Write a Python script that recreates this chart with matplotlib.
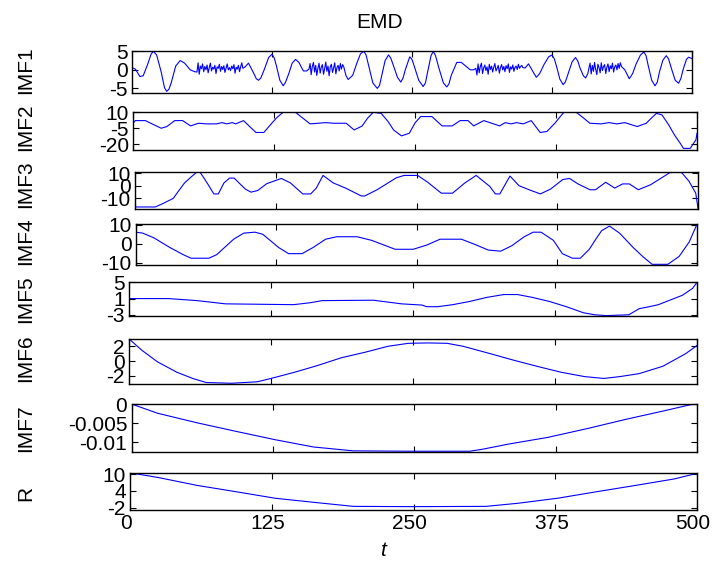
import matplotlib

matplotlib.use("Agg")
import matplotlib.pyplot as plt
import matplotlib.transforms as mtrans
import numpy as np

plt.rcParams["font.family"] = ["Liberation Sans", "DejaVu Sans"]

# ---- data (sample index t, value) ----
# IMF1: smooth oscillating parts + four high-frequency bursts
imf1_a_t = [0, 3, 7, 10, 14, 17, 19, 22, 26, 29, 31, 33, 35, 39, 43, 47, 52, 56]
imf1_a_v = [0.6, 0.2, -1.8, -1.6, 1.5, 4.2, 5.0, 4.0, -0.5, -4.8, -5.8, -5.2, -3.5, 1.0, 2.5, 1.8, 0.0, -0.5]
imf1_b1 = [-0.6, 1.9, -1.2, 1.0, 0.3, 1.6, -0.5, 0.9, 0.0, 1.3, -0.8, 0.6, 1.8, -0.3,
           0.7, 0.2, 1.2, -1.0, 0.8, 0.4, 1.5, -0.4, 0.9, 0.1, 1.1, -0.7, 0.5, 1.6,
           0.0, 0.6, -0.2, 1.0, 0.3, 1.4, -0.9, 0.7, 0.2, 1.2, -0.5, 0.8, 1.9, 0.4]
imf1_c_t = [101, 104, 108, 111, 113, 115, 118, 122, 125, 127, 129, 132, 135, 137, 140, 143, 146, 149, 153, 156]
imf1_c_v = [0.8, 1.8, -0.5, -2.4, -2.8, -2.2, 0.0, 3.3, 4.2, 3.2, 1.0, -2.8, -4.3, -3.4, -1.0, 1.8, 2.8, 2.0, -0.3, -0.3]
imf1_b2 = [0.2, 1.7, -1.3, 0.9, 2.0, -0.6, 1.2, -1.5, 0.4, 1.8, -0.9, 0.7, 1.4, -1.2, 0.3, 2.1,
           -0.4, 1.0, -1.6, 0.8, 1.5, -0.7, 0.5, 1.9, -1.1, 0.6, 1.2, -0.3, 1.7, 0.2, 1.4, 0.9]
imf1_d_t = [191, 193, 197, 201, 204, 207, 209, 211, 215, 219, 221, 223, 226, 229, 231, 233,
            237, 240, 242, 244, 248, 250, 252, 256, 260, 262, 264, 267, 269, 271, 274, 278,
            281, 283, 285, 290, 294, 298, 302, 305]
imf1_d_v = [-1.5, -2.6, -1.5, 2.0, 4.3, 5.0, 4.0, 1.5, -3.5, -5.0, -4.2, -1.5, 2.5, 4.0, 3.2, 1.5,
            -2.0, -3.3, -2.2, 0.0, 3.5, 2.8, 1.0, -2.8, -4.5, -3.5, -0.5, 3.8, 5.0, 3.8, 0.5, -3.5,
            -4.6, -3.8, -1.5, 2.0, 2.0, 1.0, 0.0, 0.0]
imf1_b3 = [0.4, -1.4, 1.6, -0.8, 0.9, 1.8, -1.0, 0.5, 1.3, -0.2, 0.8, -1.2, 1.5, 0.1, 1.0,
           -0.6, 0.7, 1.7, -0.3, 0.4, 1.2, -0.9, 0.6, 1.4, 0.0, 0.9, -0.5, 1.1, 0.3, 1.6,
           -0.7, 0.8, 0.2, 1.3, -0.4, 0.7, 1.0, 0.1, 1.5, 0.4, 0.9, 1.2, 0.6]
imf1_e_t = [351, 354, 358, 361, 364, 368, 372, 375, 377, 379, 382, 385, 387, 390, 393, 396, 398, 400, 403, 405, 407]
imf1_e_v = [0.5, 1.6, -0.5, -2.0, -1.0, 1.5, 3.5, 4.0, 3.0, 1.0, -2.5, -4.0, -3.2, -0.5, 2.2, 3.3, 2.4, 0.5, -1.6, -2.2, -1.0]
imf1_b4 = [0.5, 1.8, -1.1, 1.2, -0.4, 2.0, 0.1, -1.3, 1.5, 0.6, -0.8, 1.9, -0.2, 0.9, 1.4,
           -1.0, 0.7, 1.6, -0.5, 1.1, 0.3, 1.8, -0.6, 0.8, 1.3, 0.0, 1.7, 0.4, 1.9, 0.9]
imf1_f_t = [440, 444, 447, 450, 454, 457, 459, 461, 464, 467, 469, 471, 474, 477, 479, 482, 485, 488, 490, 492, 495, 497, 500]
imf1_f_v = [0.0, -2.4, -1.0, 1.5, 4.0, 4.8, 3.8, 1.0, -2.8, -4.3, -3.3, -0.5, 2.6, 3.8, 3.0, 0.0, -2.8, -3.6, -2.4, 0.0, 2.8, 3.4, 3.0]

imf2_t = [0, 2, 11, 18, 25, 30, 37, 44, 51, 58, 65, 74, 79, 83, 88, 91, 98, 104, 109, 116,
          123, 128, 133, 144, 150, 157, 164, 171, 178, 189, 196, 203, 208, 213, 220, 226,
          231, 238, 245, 250, 255, 265, 274, 283, 290, 297, 302, 311, 318, 325, 330, 335,
          340, 346, 353, 361, 367, 374, 378, 382, 393, 399, 405, 415, 422, 429, 436, 447,
          455, 460, 464, 469, 475, 480, 485, 488, 494, 499, 500]
imf2_v = [-0.3, 2.2, 2.2, -1.5, -5.0, -3.4, 2.2, 2.2, -2.8, -0.3, -0.9, -0.9, 0.3, -0.9, 0.3,
          -0.9, 2.2, -4.0, -9.0, -9.0, -0.3, 5.5, 10.0, 10.0, 5.0, -0.9, -0.3, 0.3, -0.3, -0.3,
          -6.6, -3.0, 4.5, 10.0, 9.0, 1.5, -6.6, -12.2, -9.7, 0.0, 6.0, 6.0, -2.8, -2.8, 2.2,
          2.2, -2.8, 2.2, -0.3, -2.8, 0.3, -0.9, 0.3, -0.9, 2.2, -9.0, -8.0, -0.3, 5.0, 10.0,
          10.0, 5.0, -0.3, -0.9, 0.3, -0.9, 0.3, -3.4, -0.3, 5.0, 9.0, 7.5, -2.0, -11.3, -19.0,
          -24.0, -24.0, -16.0, -10.0]

imf3_t = [0, 18, 25, 34, 39, 44, 50, 55, 58, 62, 65, 70, 74, 79, 84, 88, 98, 103, 109, 117,
          130, 138, 149, 156, 161, 167, 176, 187, 201, 204, 215, 232, 239, 251, 260, 272, 282,
          293, 303, 315, 320, 324, 333, 341, 350, 360, 369, 380, 386, 393, 404, 409, 418, 426,
          433, 439, 447, 458, 475, 485, 492, 498, 500]
imf3_v = [-16.8, -16.8, -14.0, -10.0, -3.8, 2.2, 7.0, 10.8, 10.3, 5.0, 0.8, -6.5, -6.5, 2.2, 6.0,
          6.0, -2.7, -5.1, -3.8, 1.6, 5.7, 2.2, -6.5, -6.5, -1.9, 8.1, 2.2, -1.9, -8.1, -8.1,
          -3.2, 6.2, 8.1, 8.1, 2.7, -5.9, -5.9, 2.2, 8.1, -0.5, -6.5, -6.5, 7.6, 0.0, -3.2,
          -6.5, -2.7, 4.9, 5.7, 1.6, -3.2, -3.2, 2.7, -1.9, 1.4, 1.4, -3.2, 0.8, 10.3, 10.8,
          3.5, -5.9, -18.0]

imf4_t = [0, 6, 16, 30, 42, 49, 65, 72, 79, 87, 96, 106, 113, 127, 136, 148, 158, 169, 179,
          197, 210, 231, 247, 259, 271, 290, 301, 314, 325, 335, 346, 354, 361, 372, 380, 389,
          396, 404, 410, 415, 422, 431, 443, 452, 460, 474, 484, 493, 500]
imf4_v = [6.0, 5.5, 3.0, -2.0, -5.8, -7.7, -7.7, -5.8, -2.0, 2.3, 5.5, 6.0, 4.9, -2.0, -5.3,
          -5.3, -2.0, 2.3, 3.6, 3.6, 1.7, -3.0, -3.0, -0.8, 2.3, 2.3, -0.2, -3.4, -4.0, -1.1,
          3.6, 6.0, 6.0, 1.7, -5.3, -7.7, -7.7, -3.0, 2.5, 6.8, 9.2, 5.5, -2.0, -7.0, -10.9,
          -10.9, -6.8, 0.8, 10.2]

imf5_t = [0, 35, 60, 85, 145, 160, 170, 215, 240, 258, 262, 272, 285, 300, 315, 330, 342,
          355, 370, 385, 400, 410, 420, 440, 449, 458, 466, 476, 487, 496, 500]
imf5_v = [1.0, 1.0, 0.5, -0.3, -0.5, 0.0, 0.5, 0.6, -0.3, -0.6, -1.0, -1.0, -0.5, 0.3, 1.3,
          2.0, 2.0, 1.3, 0.3, -1.0, -2.5, -3.0, -3.2, -3.0, -1.5, -1.0, -0.5, 0.6, 1.8, 3.5, 5.0]

imf6_t = [0, 11, 25, 42, 56, 68, 90, 113, 125, 146, 166, 187, 208, 228, 246, 263, 280, 294,
          318, 339, 359, 380, 401, 418, 432, 449, 470, 490, 500]
imf6_v = [3.0, 1.5, -0.1, -1.5, -2.35, -2.9, -3.0, -2.8, -2.35, -1.5, -0.6, 0.45, 1.2, 2.0,
          2.4, 2.45, 2.4, 2.0, 1.0, 0.1, -0.7, -1.5, -2.1, -2.35, -2.1, -1.7, -0.7, 1.0, 2.1]

imf7_t = [0, 23, 58, 92, 127, 161, 196, 248, 299, 310, 334, 368, 403, 437, 472, 494, 500]
imf7_v = [0.0, -0.0024, -0.0049, -0.0071, -0.0093, -0.0112, -0.0122, -0.0123, -0.0123,
          -0.0118, -0.0104, -0.0087, -0.0064, -0.0040, -0.0017, -0.0002, 0.0]

res_t = [0, 25, 59, 94, 128, 163, 197, 249, 314, 342, 377, 411, 446, 480, 500]
res_v = [10.5, 8.8, 6.0, 3.7, 1.4, -0.1, -1.5, -1.6, -1.5, -0.4, 1.4, 3.7, 6.0, 8.3, 10.3]

labels = ["IMF1", "IMF2", "IMF3", "IMF4", "IMF5", "IMF6", "IMF7", "R"]
yticks = [[-5, 0, 5], [-20, -5, 10], [-10, 0, 10], [-10, 0, 10], [-3, 1, 5],
          [-2, 0, 2], [-0.01, -0.005, 0], [-2, 4, 10]]
ylims = [(-6.1, 5.2), (-25.5, 10.3), (-18, 10.8), (-11, 10.3), (-3.3, 5.1),
         (-3.1, 3.05), (-0.0125, 0.0), (-2.8, 10.6)]
xticks = [0, 125, 250, 375, 500]

# panel boxes in pixels: left, right, top, bottom
boxes = [(132, 692, 50.5, 92.5), (133, 697, 112, 150), (135, 698, 172, 208.5),
         (136, 697, 224, 264.5), (129, 697, 282, 316), (129, 697, 338.5, 384),
         (131.5, 697, 404, 452), (130, 697, 472.5, 510)]
# vertical centres of the rotated panel names (pixels)
label_y = [70.5, 127, 184, 241, 299, 358, 428, 493]
FS = 15


def build_imf1():
    t = list(imf1_a_t) + list(range(58, 58 + len(imf1_b1))) + list(imf1_c_t) \
        + list(range(158, 158 + len(imf1_b2))) + list(imf1_d_t) \
        + list(range(307, 307 + len(imf1_b3))) + list(imf1_e_t) \
        + list(range(408, 408 + len(imf1_b4))) + list(imf1_f_t)
    v = imf1_a_v + imf1_b1 + imf1_c_v + imf1_b2 + imf1_d_v + imf1_b3 + imf1_e_v + imf1_b4 + imf1_f_v
    return t, v


W, H = 714, 569
fig = plt.figure(figsize=(W / 100, H / 100), dpi=100)

series = [build_imf1(), (imf2_t, imf2_v), (imf3_t, imf3_v), (imf4_t, imf4_v),
          (imf5_t, imf5_v), (imf6_t, imf6_v), (imf7_t, imf7_v), (res_t, res_v)]

for i, ((t, v), lab) in enumerate(zip(series, labels)):
    l, r, top, bot = boxes[i]
    ax = fig.add_axes([l / W, 1 - bot / H, (r - l) / W, (bot - top) / H])
    ax.plot(t, v, color="#0000ff", lw=0.8)
    ax.set_xlim(0, 500)
    ax.set_ylim(*ylims[i])
    ax.set_yticks(yticks[i])
    ax.set_yticklabels([f"{y:g}" for y in yticks[i]])
    ax.set_xticks(xticks)
    ax.tick_params(direction="in", top=True, right=True, length=4, width=0.8,
                   labelsize=FS, pad=3, colors="black")
    for s in ax.spines.values():
        s.set_linewidth(1.0)
    if i < 7:
        ax.set_xticklabels([])
    else:
        # nudge the outermost tick labels inwards a little, as in the reference
        shift = mtrans.ScaledTranslation(-4 / 100, 0, fig.dpi_scale_trans)
        for tl in ax.get_xticklabels():
            tl.set_transform(tl.get_transform() + shift)
    fig.text(26 / W, 1 - label_y[i] / H, lab, rotation=90, fontsize=FS,
             ha="center", va="center")

fig.text(380 / W, 1 - 23 / H, "EMD", fontsize=FS, ha="center", va="center")
fig.text(383 / W, 1 - 550 / H, "t", fontsize=FS, style="italic", ha="center", va="center")

fig.savefig("out.png", dpi=100)
